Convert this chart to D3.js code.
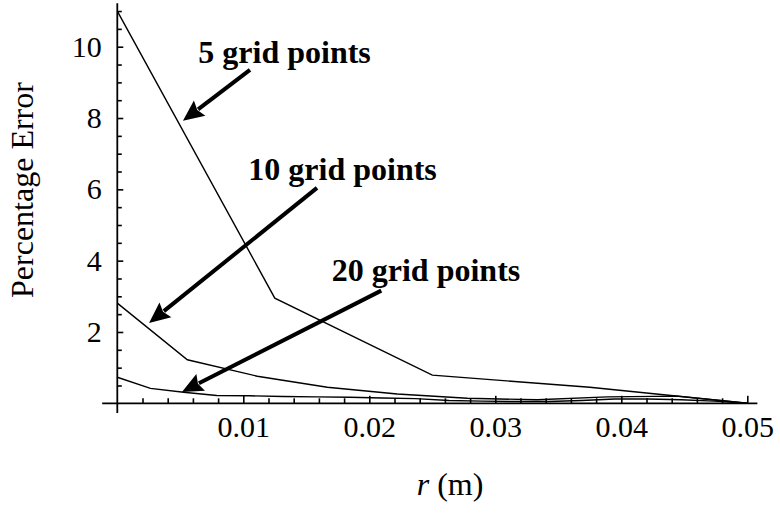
<!DOCTYPE html>
<html>
<head>
<meta charset="utf-8">
<script src="https://cdn.jsdelivr.net/npm/d3@7"></script>
<style>
  html, body { margin: 0; padding: 0; background: #fff; }
  svg { display: block; }
  svg text { font-family: "Liberation Serif", "Times New Roman", serif; }
</style>
</head>
<body>
<svg id="chart" width="780" height="514"></svg>
<script>
// Radial position of each grid node (m)
const r5  = [0, 0.0125, 0.025, 0.0375, 0.05];
const r10 = [0, 0.00556, 0.01111, 0.01667, 0.02222, 0.02778, 0.03333, 0.03889, 0.04444, 0.05];
const r20 = [0, 0.00263, 0.00526, 0.00789, 0.01053, 0.01316, 0.01579, 0.01842, 0.02105, 0.02368,
             0.02632, 0.02895, 0.03158, 0.03421, 0.03684, 0.03947, 0.04211, 0.04474, 0.04737, 0.05];

// Percentage error at each node
const err5  = [11.0, 2.95, 0.79, 0.45, 0];
const err10 = [2.81, 1.22, 0.76, 0.45, 0.26, 0.14, 0.10, 0.18, 0.20, 0];
const err20 = [0.73, 0.42, 0.31, 0.22, 0.21, 0.19, 0.18, 0.17, 0.15, 0.13,
               0.08, 0.06, 0.05, 0.05, 0.08, 0.12, 0.12, 0.10, 0.06, 0];

// Tick values
const xMajorTicks = [0.01, 0.02, 0.03, 0.04, 0.05];
const yMajorTicks = [2, 4, 6, 8, 10];

// Full extent of the drawn axes (data units)
const xAxisExtent = [-0.0012, 0.0508];
const yAxisExtent = [-0.27, 11.22];

// Annotation labels and their arrows (data units)
const labelText  = ["5 grid points", "10 grid points", "20 grid points"];
const labelAt    = [[0.00643, 9.53], [0.0104, 6.26], [0.01702, 3.44]];
const arrowTail  = [[0.01053, 9.35], [0.01585, 6.04], [0.02095, 3.16]];
const arrowTip   = [[0.00521, 7.92], [0.00252, 2.25], [0.00513, 0.32]];

const serif = "'Liberation Serif', 'Times New Roman', serif";
const svg = d3.select("#chart");

const x = d3.scaleLinear().domain([0, 0.05]).range([117.3, 747.3]);
const y = d3.scaleLinear().domain([0, 10]).range([403.3, 46.7]);

// Axis lines
const axes = svg.append("g").attr("stroke", "#000").attr("stroke-width", 1.8);
axes.append("line")
  .attr("x1", x(xAxisExtent[0])).attr("x2", x(xAxisExtent[1]))
  .attr("y1", y(0)).attr("y2", y(0));
axes.append("line")
  .attr("x1", x(0)).attr("x2", x(0))
  .attr("y1", y(yAxisExtent[0])).attr("y2", y(yAxisExtent[1]));

// Minor ticks
const xMinor = d3.range(1, 26).map(i => i * 0.002).filter(v => !xMajorTicks.some(m => Math.abs(m - v) < 1e-9));
const yMinor = d3.range(1, 23).map(i => i * 0.5).filter(v => !yMajorTicks.includes(v));

const gxMinor = svg.append("g").attr("transform", `translate(0,${y(0)})`)
  .call(d3.axisBottom(x).tickValues(xMinor).tickSize(-5).tickSizeOuter(0).tickFormat(""));
const gyMinor = svg.append("g").attr("transform", `translate(${x(0)},0)`)
  .call(d3.axisLeft(y).tickValues(yMinor).tickSize(-4.5).tickSizeOuter(0).tickFormat(""));

// Major ticks with labels
const gx = svg.append("g").attr("transform", `translate(0,${y(0)})`)
  .call(d3.axisBottom(x).tickValues(xMajorTicks).tickSize(-7.5).tickSizeOuter(0)
        .tickPadding(12.4).tickFormat(d3.format(".2f")));
const gy = svg.append("g").attr("transform", `translate(${x(0)},0)`)
  .call(d3.axisLeft(y).tickValues(yMajorTicks).tickSize(-6).tickSizeOuter(0)
        .tickPadding(15.6).tickFormat(d3.format("d")));

[gxMinor, gyMinor, gx, gy].forEach(g => {
  g.attr("font-family", serif).attr("font-size", 30);
  g.select(".domain").remove();
  g.selectAll(".tick line").attr("stroke", "#000").attr("stroke-width", 1.6);
});
[gx, gy].forEach(g => {
  g.selectAll(".tick text")
    .attr("fill", "#000")
    .attr("font-family", serif)
    .attr("font-size", 30);
});

// Error curves
const line = d3.line().x(d => x(d[0])).y(d => y(d[1]));
const series = [d3.zip(r5, err5), d3.zip(r10, err10), d3.zip(r20, err20)];
svg.append("g")
  .selectAll("path")
  .data(series)
  .join("path")
  .attr("d", line)
  .attr("fill", "none")
  .attr("stroke", "#000")
  .attr("stroke-width", 1.4)
  .attr("stroke-linejoin", "miter");

// Annotation arrows
const headLen = 21, headHalf = 9.5;
const arrows = svg.append("g");
arrowTail.forEach((t, i) => {
  const x0 = x(t[0]), y0 = y(t[1]);
  const x1 = x(arrowTip[i][0]), y1 = y(arrowTip[i][1]);
  const dx = x1 - x0, dy = y1 - y0, len = Math.hypot(dx, dy);
  const ux = dx / len, uy = dy / len;
  const bx = x1 - ux * headLen, by = y1 - uy * headLen;
  arrows.append("line")
    .attr("x1", x0).attr("y1", y0)
    .attr("x2", bx + ux * 2).attr("y2", by + uy * 2)
    .attr("stroke", "#000").attr("stroke-width", 4);
  arrows.append("path")
    .attr("d", `M${x1},${y1}L${bx - uy * headHalf},${by + ux * headHalf}` +
               `L${bx + ux * 3},${by + uy * 3}L${bx + uy * headHalf},${by - ux * headHalf}Z`)
    .attr("fill", "#000");
});

// Annotation labels
svg.append("g")
  .selectAll("text")
  .data(labelText)
  .join("text")
  .attr("x", (d, i) => x(labelAt[i][0]))
  .attr("y", (d, i) => y(labelAt[i][1]))
  .attr("font-family", serif)
  .attr("font-size", 32)
  .attr("font-weight", "bold")
  .attr("fill", "#000")
  .text(d => d);

// Axis titles
svg.append("text")
  .attr("transform", "translate(33,190) rotate(-90)")
  .attr("text-anchor", "middle")
  .attr("font-family", serif)
  .attr("font-size", 32)
  .attr("fill", "#000")
  .text("Percentage Error");

const xTitle = svg.append("text")
  .attr("x", 450)
  .attr("y", 495)
  .attr("text-anchor", "middle")
  .attr("font-family", serif)
  .attr("font-size", 32)
  .attr("fill", "#000");
xTitle.append("tspan").attr("font-style", "italic").text("r");
xTitle.append("tspan").text(" (m)");
</script>
</body>
</html>
